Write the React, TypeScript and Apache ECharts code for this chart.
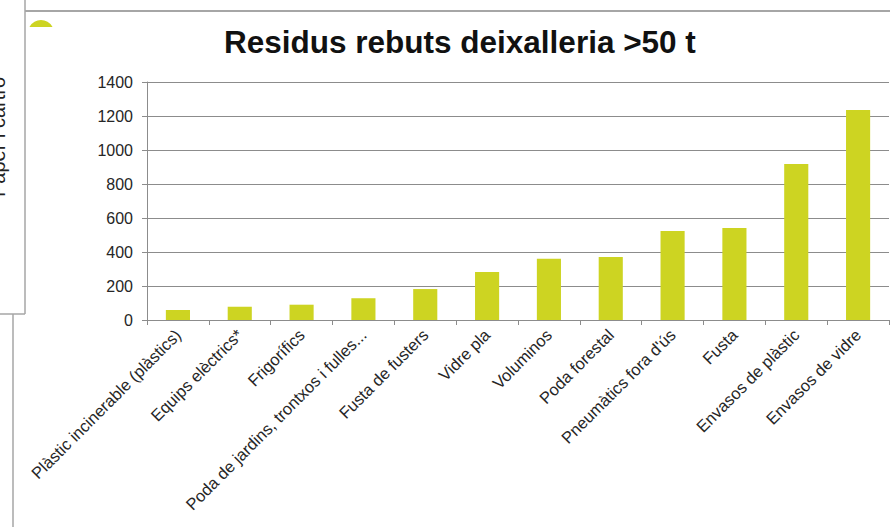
import React, { useEffect, useRef } from "react";
import * as echarts from "echarts";

const categories = [
  "Plàstic incinerable (plàstics)",
  "Equips elèctrics*",
  "Frigorífics",
  "Poda de jardins, trontxos i fulles...",
  "Fusta de fusters",
  "Vidre pla",
  "Voluminos",
  "Poda forestal",
  "Pneumàtics fora d'ús",
  "Fusta",
  "Envasos de plàstic",
  "Envasos de vidre",
];
const values = [59, 78, 90, 128, 182, 282, 361, 371, 524, 541, 918, 1235];
const titleText = "Residus rebuts deixalleria >50 t";
const sideText = "Paper i cartró";

export default function App() {
  const ref = useRef<HTMLDivElement>(null);
  useEffect(() => {
    if (!ref.current) return;
    const chart = echarts.init(ref.current, undefined, { renderer: "svg" });
    const font = "Liberation Sans, Arial, sans-serif";
    chart.setOption({
      animation: false,
      backgroundColor: "#ffffff",
      title: {
        text: titleText,
        left: 224,
        top: 26,
        padding: 0,
        textStyle: { fontFamily: font, fontSize: 31.5, fontWeight: "bold", color: "#111111" },
      },
      graphic: [
        { type: "circle", z: -3, shape: { cx: 41, cy: 33, r: 13 }, style: { fill: "#cdd422" } },
        { type: "rect", z: -2, shape: { x: 26, y: 27, width: 864, height: 500 }, style: { fill: "#ffffff" } },
        { type: "line", z: -1, shape: { x1: 25, y1: 11, x2: 890, y2: 11 }, style: { stroke: "#a6a6a6", lineWidth: 2 } },
        { type: "line", z: -1, shape: { x1: 25, y1: 0, x2: 25, y2: 314 }, style: { stroke: "#a6a6a6", lineWidth: 1.5 } },
        { type: "line", z: -1, shape: { x1: 0, y1: 314, x2: 25, y2: 314 }, style: { stroke: "#a6a6a6", lineWidth: 1.5 } },
        { type: "line", z: -1, shape: { x1: 13, y1: 314, x2: 13, y2: 527 }, style: { stroke: "#a6a6a6", lineWidth: 1.5 } },
        {
          type: "text",
          z: -1,
          x: 8,
          y: 137,
          rotation: Math.PI / 2,
          style: {
            text: sideText,
            fontFamily: font,
            fontSize: 20,
            fill: "#222222",
            align: "center",
            verticalAlign: "bottom",
          },
        },
      ],
      grid: { left: 147, right: 1, top: 82, bottom: 207, containLabel: false },
      xAxis: {
        type: "category",
        data: categories,
        axisLine: { show: true, lineStyle: { color: "#8c8c8c", width: 1 } },
        axisTick: { show: true, alignWithLabel: false, length: 5, lineStyle: { color: "#8c8c8c" } },
        axisLabel: {
          interval: 0,
          rotate: 45,
          margin: 12,
          fontFamily: font,
          fontSize: 16.5,
          color: "#262626",
        },
        splitLine: { show: false },
      },
      yAxis: {
        type: "value",
        min: 0,
        max: 1400,
        interval: 200,
        axisLine: { show: true, lineStyle: { color: "#8c8c8c", width: 1 } },
        axisTick: { show: true, length: 5, lineStyle: { color: "#8c8c8c" } },
        axisLabel: {
          margin: 14,
          fontFamily: font,
          fontSize: 16,
          color: "#262626",
          formatter: (v: number) => String(v),
        },
        splitLine: { show: true, lineStyle: { color: "#8c8c8c", width: 1 } },
      },
      series: [
        {
          type: "bar",
          data: values,
          barWidth: "39%",
          itemStyle: { color: "#cdd422" },
        },
      ],
    });
    return () => chart.dispose();
  }, []);
  return (
    <div
      ref={ref}
      style={{ position: "fixed", left: 0, top: 0, width: 890, height: 527 }}
    />
  );
}
